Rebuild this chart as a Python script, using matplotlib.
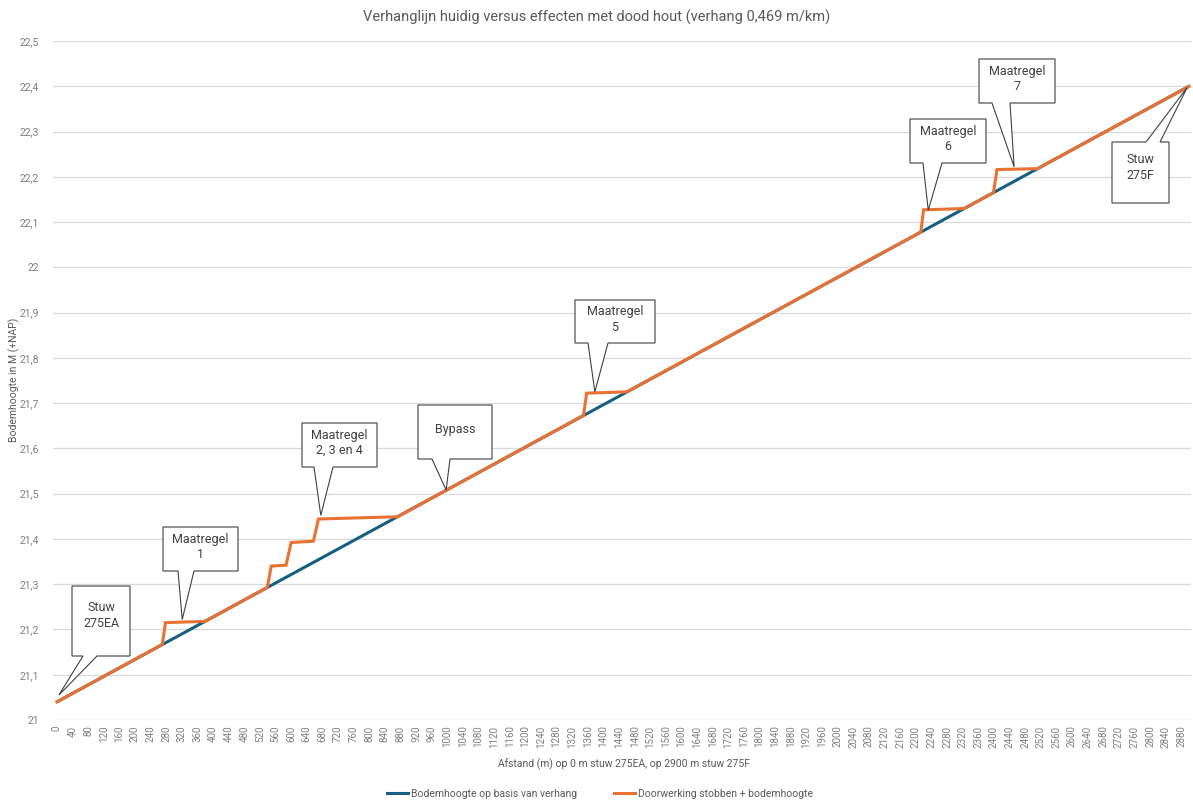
import matplotlib
matplotlib.use("Agg")
import matplotlib.pyplot as plt
from matplotlib.patches import Polygon
from matplotlib.lines import Line2D

plt.rcParams['font.family'] = ['Roboto', 'DejaVu Sans']

# data: bed level along the stretch (m from stuw 275EA)
basis_x = [0, 2900]
basis_y = [21.04, 22.40]

stobben_x = [0, 270, 278, 380, 539, 549, 587, 600, 657, 670, 873,
             1349, 1357, 1460, 2213, 2220, 2325, 2399, 2408, 2512, 2900]
stobben_y = [21.040, 21.167, 21.215, 21.218, 21.293, 21.340, 21.342, 21.392,
             21.395, 21.444, 21.449, 21.673, 21.722, 21.725, 22.078, 22.127,
             22.130, 22.165, 22.216, 22.218, 22.400]

x_ticks = list(range(0, 2881, 40))
y_ticks = [21.0, 21.1, 21.2, 21.3, 21.4, 21.5, 21.6, 21.7, 21.8, 21.9,
           22.0, 22.1, 22.2, 22.3, 22.4, 22.5]

# callouts: label, tip (data), box (px: left, top, right, bottom), wedge base x (px), wedge side
callout_labels = ["Stuw\n275EA", "Maatregel\n1", "Maatregel\n2, 3 en 4", "Bypass",
                  "Maatregel\n5", "Maatregel\n6", "Maatregel\n7", "Stuw\n275F"]
callout_tips = [(5, 21.055), (321, 21.222), (676, 21.452), (997, 21.508),
                (1378, 21.725), (2232, 22.126), (2452, 22.222), (2895, 22.397)]
callout_boxes = [(72, 586, 130, 656), (163, 527, 238, 571), (302, 423, 377, 467),
                 (418, 405, 492, 459), (575, 300, 655, 343), (910, 119, 986, 163),
                 (979, 59, 1055, 103), (1112, 142, 1169, 203)]
callout_bases = [(83, 97), (178, 194), (314, 333), (432, 450),
                 (588, 608), (923, 942), (992, 1010), (1146, 1160)]
callout_side = ["bottom"] * 7 + ["top"]

BLUE = "#156082"
ORANGE = "#E97132"
GREY = "#595959"
LIGHT = "#7f7f7f"

W, H = 1193, 800
fig = plt.figure(figsize=(W / 100, H / 100), dpi=100)
ax = fig.add_axes([53 / W, (H - 720) / H, (1191 - 53) / W, (720 - 41) / H])

ax.plot(basis_x, basis_y, color=BLUE, lw=2.2, solid_capstyle="butt", zorder=3)
ax.plot(stobben_x, stobben_y, color=ORANGE, lw=2.2, solid_joinstyle="miter", zorder=4)

ax.set_xlim(-10, 2905)
ax.set_ylim(21.0, 22.5)
ax.set_xticks(x_ticks)
ax.set_xticklabels([str(v) for v in x_ticks], rotation=90, fontsize=7, color=LIGHT)
ax.set_yticks(y_ticks)
ax.set_yticklabels([("%g" % v).replace(".", ",") for v in y_ticks], fontsize=7.5, color=LIGHT)
ax.tick_params(length=0, pad=4)
ax.tick_params(axis="y", pad=10)
ax.grid(axis="y", color="#d9d9d9", lw=0.9)
ax.set_axisbelow(True)
for s in ax.spines.values():
    s.set_visible(False)

fig.text(0.5, 1 - 17 / H, "Verhanglijn huidig versus effecten met dood hout (verhang 0,469 m/km)",
         ha="center", va="center", fontsize=10.5, color=GREY)
fig.text(624 / W, 1 - 764 / H, "Afstand (m) op 0 m stuw 275EA, op 2900 m stuw 275F",
         ha="center", va="center", fontsize=7.5, color=GREY)
fig.text(14 / W, 1 - 380 / H, "Bodemhoogte in M (+NAP)", rotation=90,
         ha="center", va="center", fontsize=7.5, color=GREY)

handles = [Line2D([], [], color=BLUE, lw=2.2), Line2D([], [], color=ORANGE, lw=2.2)]
fig.legend(handles, ["Bodemhoogte op basis van verhang", "Doorwerking stobben + bodemhoogte"],
           loc="center", bbox_to_anchor=(600 / W, 1 - 794 / H), ncol=2, frameon=False,
           fontsize=7.5, labelcolor=GREY, handlelength=2.0, columnspacing=3.5, handletextpad=0.3)

# callout boxes
inv = fig.transFigure.inverted()
for label, tip, box, base, side in zip(callout_labels, callout_tips, callout_boxes,
                                       callout_bases, callout_side):
    l, t, r, b = box
    tx, ty = ax.transData.transform(tip)
    t, b = H - t, H - b
    if side == "bottom":
        pts = [(l, t), (r, t), (r, b), (base[1], b), (tx, ty), (base[0], b), (l, b)]
    else:
        pts = [(l, t), (base[0], t), (tx, ty), (base[1], t), (r, t), (r, b), (l, b)]
    pts = inv.transform(pts)
    fig.add_artist(Polygon(pts, closed=True, facecolor="white", edgecolor="#404040",
                           lw=0.8, transform=fig.transFigure, zorder=5))
    cy = t - (t - b) * (0.42 if "Stuw" in label else 0.45)
    fig.text((l + r) / 2 / W, cy / H, label, ha="center", va="center",
             fontsize=9, color="#404040", linespacing=1.25, zorder=6)

fig.savefig("out.png", dpi=100)
